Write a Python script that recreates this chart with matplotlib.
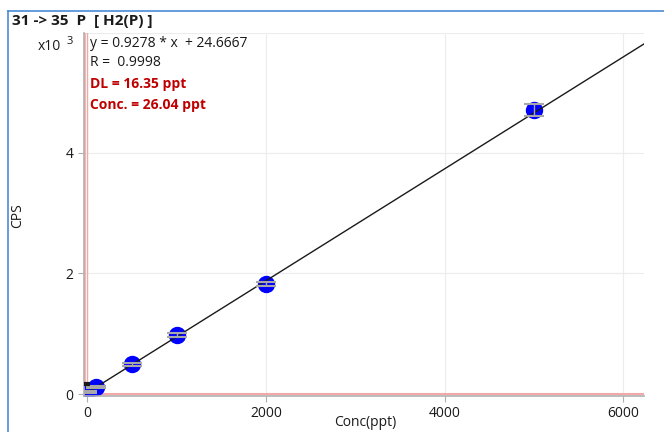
import matplotlib.pyplot as plt
from matplotlib.ticker import FuncFormatter

plt.rcParams['font.family'] = ['Open Sans', 'DejaVu Sans']

# calibration standards
conc = [0, 100, 500, 1000, 2000, 5000]
cps = [30, 120, 490, 975, 1825, 4710]
cps_err = [15, 20, 30, 30, 40, 100]

slope = 0.9278
intercept = 24.6667
r_value = 0.9998
dl = 16.35
sample_conc = 26.04

fig = plt.figure(figsize=(6.64, 4.32), dpi=100)
ax = fig.add_axes([0.1265, 0.0833, 0.8435, 0.8403])

x_min, x_max = -39, 6235
y_min, y_max = -33, 5990

# light grid
for gx in [2000, 4000, 6000]:
    ax.axvline(gx, color='#ececec', lw=0.8, zorder=0)
for gy in [2000, 4000, y_max]:
    ax.axhline(gy, color='#ececec', lw=0.8, zorder=0)

# reference lines for blank / sample
ax.axvline(-30, color='#f4a8a8', lw=1.2, zorder=1)
ax.axvline(0, color='#f4a8a8', lw=1.0, zorder=1)
ax.axhline(0, color='#f4a8a8', lw=1.5, zorder=1)

# fitted line
fit_x = [0, x_max]
fit_y = [intercept + slope * v for v in fit_x]
ax.plot(fit_x, fit_y, color='#1a1a1a', lw=1.0, zorder=3)

ax.plot(conc, cps, 'o', color='#0000ff', markersize=11.5, zorder=2)
ax.errorbar(conc, cps, yerr=cps_err, fmt='none', ecolor='#a8a8a8',
            elinewidth=1.0, capsize=7.5, capthick=1.5, zorder=4)
ax.plot([-20], [170], marker='_', color='#1a1a1a', markersize=6, mew=3, zorder=4)

ax.set_xlim(x_min, x_max)
ax.set_ylim(y_min, y_max)
ax.set_xticks([0, 2000, 4000, 6000])
ax.set_yticks([0, 2000, 4000])
ax.yaxis.set_major_formatter(FuncFormatter(lambda v, p: f'{v / 1000:g}'))
ax.tick_params(labelsize=10, colors='#1a1a1a', length=4, width=0.8)
ax.tick_params(axis='both', color='#b0b0b0')

for s in ['top', 'right']:
    ax.spines[s].set_visible(False)
for s in ['left', 'bottom']:
    ax.spines[s].set_color('#b0b0b0')
    ax.spines[s].set_linewidth(1.2)

# equation and results
tx = 0.011
ax.text(tx, 0.972, f'y = {slope} * x  + {intercept}', transform=ax.transAxes,
        fontsize=10, va='center', color='#1a1a1a')
ax.text(tx, 0.920, f'R =  {r_value}', transform=ax.transAxes,
        fontsize=10, va='center', color='#1a1a1a')
ax.text(tx, 0.860, f'DL = {dl} ppt', transform=ax.transAxes,
        fontsize=10, va='center', color='#c00000', fontweight='bold')
ax.text(tx, 0.802, f'Conc. = {sample_conc} ppt', transform=ax.transAxes,
        fontsize=10, va='center', color='#c00000', fontweight='bold')

# panel frame and header
fig.add_artist(plt.Line2D([8 / 664, 8 / 664], [0, 1 - 11 / 432], color='#4a8ad8', lw=1.2))
fig.add_artist(plt.Line2D([8 / 664, 1], [1 - 11 / 432, 1 - 11 / 432], color='#4a8ad8', lw=1.2))
fig.text(12 / 664, 1 - 21 / 432, '31 -> 35  P  [ H2(P) ]', fontsize=11,
         fontweight='bold', va='center', color='#1a1a1a')

fig.text(38 / 664, 1 - 46 / 432, 'x10', fontsize=10, va='center', color='#1a1a1a')
fig.text(67 / 664, 1 - 41 / 432, '3', fontsize=8, va='center', color='#1a1a1a')
fig.text(18 / 664, 0.502, 'CPS', fontsize=10, rotation=90, va='center', ha='center',
         color='#1a1a1a')
fig.text(365 / 664, 1 - 423 / 432, 'Conc(ppt)', fontsize=10, va='center', ha='center',
         color='#1a1a1a')

fig.savefig('out.png', dpi=100)
